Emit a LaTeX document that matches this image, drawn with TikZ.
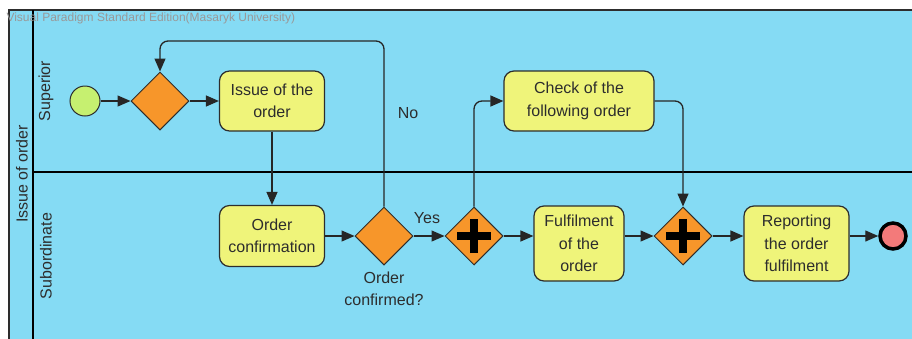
\documentclass[tikz,border=0pt]{standalone}
\usepackage{fontspec}
\setmainfont{Liberation Sans}
\usetikzlibrary{shapes.geometric,arrows.meta}
\definecolor{poolblue}{RGB}{133,219,244}
\definecolor{taskyellow}{RGB}{239,244,122}
\definecolor{gateorange}{RGB}{247,150,42}
\definecolor{startgreen}{RGB}{198,240,112}
\definecolor{endred}{RGB}{243,122,122}
\definecolor{inkgray}{RGB}{45,45,45}

\begin{document}
\begin{tikzpicture}[x=1pt, y=-1pt,
    every node/.style = {font=\fontsize{16}{22.5}\selectfont,
      text=inkgray, align=center},
    task/.style = {shape=rectangle, rounded corners=10pt,
      draw=inkgray, line width=1.2pt, fill=taskyellow, inner sep=0pt},
    gate/.style = {shape=diamond, draw=inkgray, line width=1pt,
      fill=gateorange, minimum width=58pt, minimum height=58pt, inner sep=0pt},
    pgate/.style = {gate, path picture={
      \draw[line width=7.5pt, black]
        ([xshift=-17pt]path picture bounding box.center) -- ([xshift=17pt]path picture bounding box.center)
        ([yshift=-17pt]path picture bounding box.center) -- ([yshift=17pt]path picture bounding box.center);}},
    startev/.style = {shape=circle, draw=inkgray, line width=1pt,
      fill=startgreen, minimum size=30pt, inner sep=0pt},
    endev/.style = {shape=circle, draw=black, line width=3.5pt,
      fill=endred, minimum size=26pt, inner sep=0pt},
    flow/.style = {draw=black!85, line width=1.3pt,
      -{Triangle[length=13pt, width=11pt]}}]

  \useasboundingbox (0,0) rectangle (912,338);
  \clip (0,0) rectangle (912,338);

  \draw[draw=inkgray, line width=1.5pt, fill=poolblue] (9,10) rectangle (960,400);
  \draw[line width=2.5pt] (33,10) -- (33,400);
  \draw[line width=1.2pt] (33,172) -- (960,172);

  \node[anchor=west, font=\fontsize{12}{13}\selectfont, text=black!40] (title) at (3,18)
    {Visual Paradigm Standard Edition(Masaryk University)};
  \node[rotate=90] (pool) at (22,174) {Issue of order};
  \node[rotate=90] (superior) at (46,91) {Superior};
  \node[rotate=90] (subordinate) at (46,256) {Subordinate};

  \node[startev] (start) at (85,101) {};
  \node[gate] (x1) at (160,101) {};
  \node[task, minimum width=105pt, minimum height=60pt] (issue) at (272,101) {Issue of the\\order};
  \node[task, minimum width=150pt, minimum height=60pt] (check) at (579,101) {Check of the\\following order};

  \node[task, minimum width=105pt, minimum height=61pt] (confirm) at (272,236) {Order\\confirmation};
  \node[gate] (x2) at (384,236) {};
  \node (question) at (384,289) {Order\\confirmed?};
  \node[pgate] (p1) at (474,236) {};
  \node[task, minimum width=90pt, minimum height=75pt] (fulfil) at (579,243.5) {Fulfilment\\of the\\order};
  \node[pgate] (p2) at (683,236) {};
  \node[task, minimum width=105pt, minimum height=75pt] (report) at (796.5,243.5) {Reporting\\the order\\fulfilment};
  \node[endev] (end) at (893,236) {};

  \node (no) at (408,113) {No};
  \node (yes) at (427,218) {Yes};
  \coordinate (looptop) at (384,41);

  \draw[flow] (start) -- (x1);
  \draw[flow] (x1) -- (issue);
  \draw[flow] (issue) -- (confirm);
  \draw[flow] (confirm.east |- x2) -- (x2);
  \draw[flow] (x2) -- (p1);
  \draw[flow] (p1) -- (p1 -| fulfil.west);
  \draw[flow] (fulfil.east |- p2) -- (p2);
  \draw[flow] (p2) -- (p2 -| report.west);
  \draw[flow] (report.east |- end) -- (end);
  \draw[flow, rounded corners=8pt] (x2.north) -- (looptop) -| (x1.north);
  \draw[flow, rounded corners=8pt] (p1.north) |- (check.west);
  \draw[flow, rounded corners=8pt] (check.east) -| (p2.north);
\end{tikzpicture}
\end{document}
